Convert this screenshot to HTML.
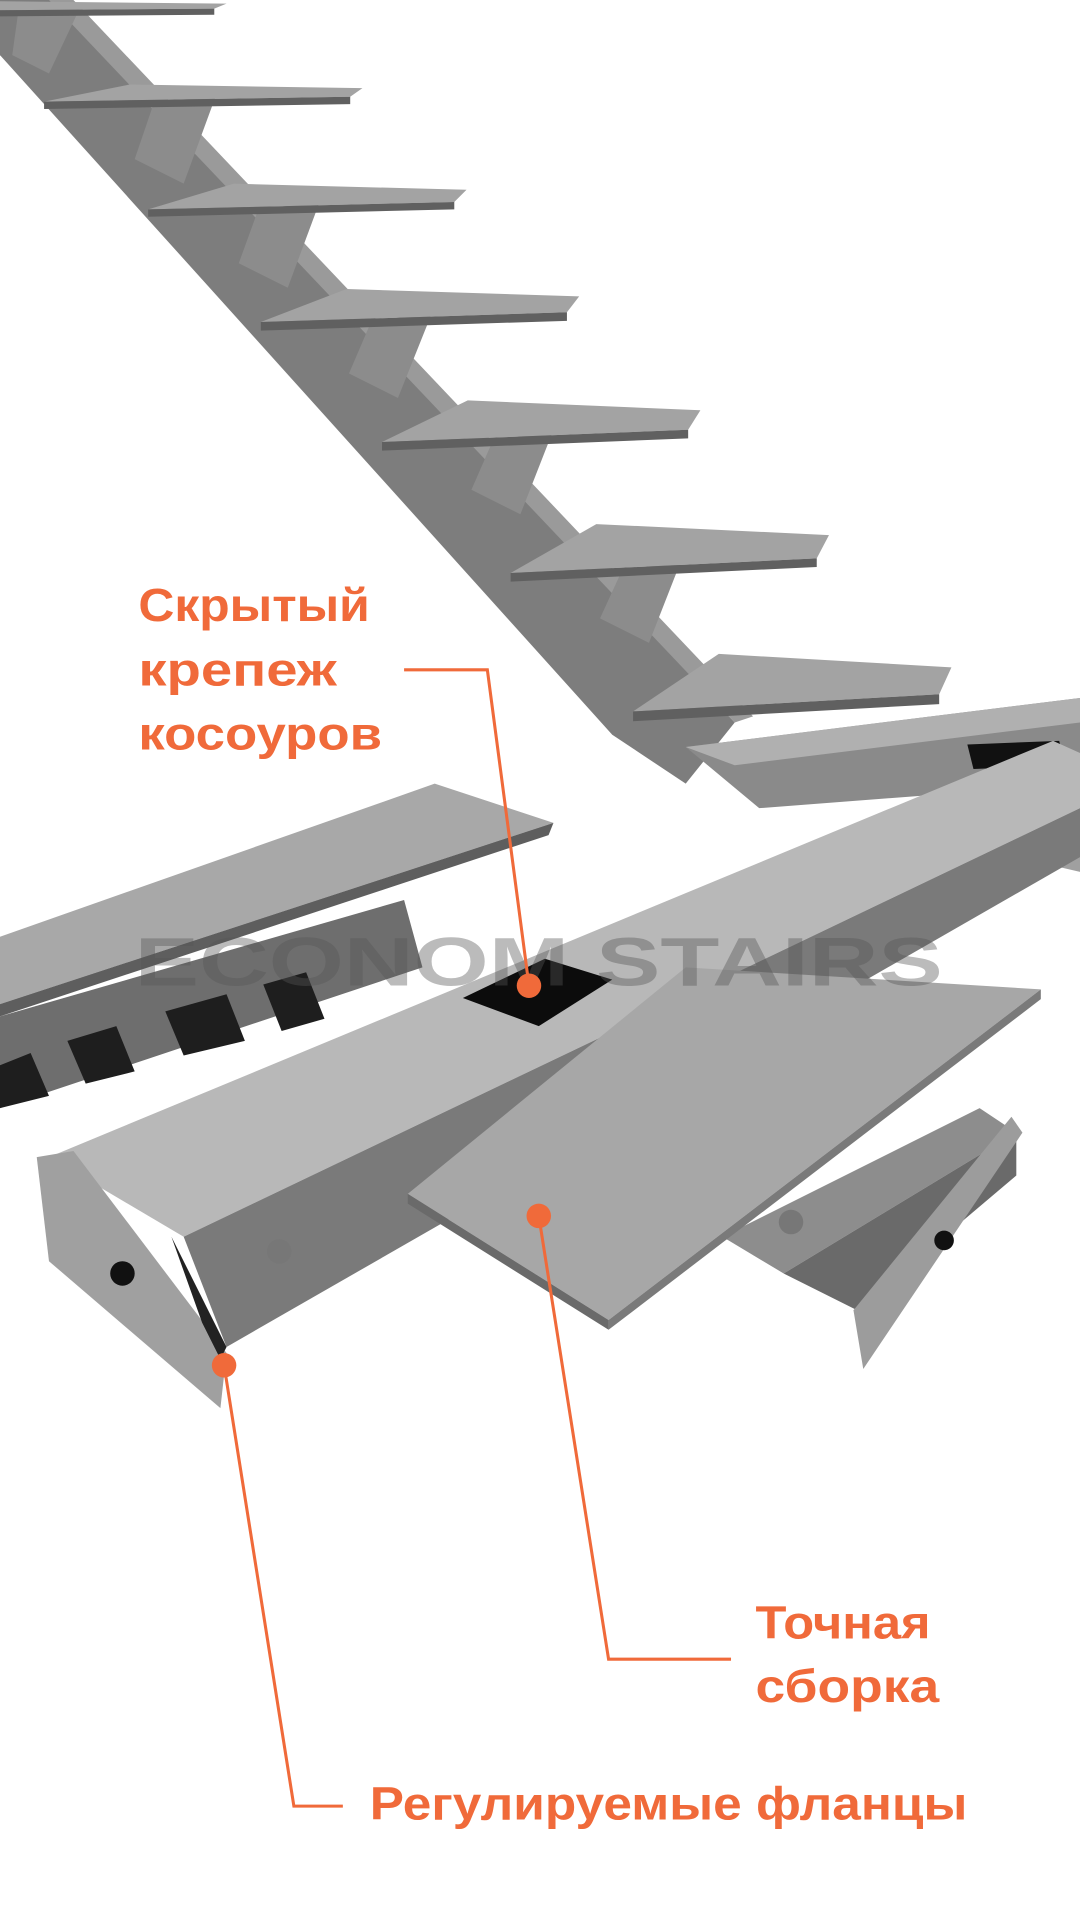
<!DOCTYPE html>
<html><head><meta charset="utf-8"><style>
html,body{margin:0;padding:0;background:#fff;}
svg{display:block;}
.lbl{font-family:"Liberation Sans",sans-serif;font-weight:bold;fill:#f06a3a;font-size:38px;}
</style></head><body>
<svg width="1080" height="1920" viewBox="0 0 882 1568" xmlns="http://www.w3.org/2000/svg">
<rect width="882" height="1568" fill="#fff"/>
<!-- upper stringer -->
<polygon points="0,0 50,0 600,590 560,640 500,600 0,45" fill="#7d7d7d"/>
<polygon points="40,0 60,0 615,585 600,590" fill="#9a9a9a"/>
<!-- supports -->
<g fill="#8c8c8c">
<polygon points="15,9 65,7 40,60 10,45"/>
<polygon points="126,83 176,79 150,150 110,130"/>
<polygon points="211,171 261,165 235,235 195,215"/>
<polygon points="303,263 353,255 325,325 285,305"/>
<polygon points="402,361 452,351 425,420 385,400"/>
<polygon points="507,468 557,456 530,525 490,505"/>
</g>
<!-- treads -->
<g fill="#a3a3a3">
<polygon points="-75,9 -5,1 185,3 175,7"/>
<polygon points="36,83 106,69 296,72 286,79"/>
<polygon points="121,171 191,150 381,155 371,165"/>
<polygon points="213,263 283,236 473,242 463,255"/>
<polygon points="312,361 382,327 572,335 562,351"/>
<polygon points="417,468 487,428 677,437 667,456"/>
<polygon points="517,581 587,534 777,545 767,567"/>
</g>
<g fill="#606060">
<polygon points="-75,9 175,7 175,12 -75,14"/>
<polygon points="36,83 286,79 286,85 36,89"/>
<polygon points="121,171 371,165 371,171 121,177"/>
<polygon points="213,263 463,255 463,262 213,270"/>
<polygon points="312,361 562,351 562,358 312,368"/>
<polygon points="417,468 667,456 667,463 417,475"/>
<polygon points="517,581 767,567 767,575 517,589"/>
</g>
<!-- upper right beam -->
<polygon points="560,610 882,570 882,640 620,660" fill="#8a8a8a"/>
<polygon points="560,610 882,570 882,590 600,625" fill="#b0b0b0"/>
<polygon points="790,608 865,605 870,625 795,628" fill="#111"/>
<polygon points="820,690 882,665 882,712 830,700" fill="#a0a0a0"/>
<!-- left stair -->
<polygon points="0,830 330,735 345,790 0,905" fill="#6e6e6e"/>
<g fill="#1e1e1e">
<polygon points="0,870 25,860 40,895 0,905"/>
<polygon points="55,850 95,838 110,875 70,885"/>
<polygon points="135,826 185,812 200,850 150,862"/>
<polygon points="215,804 250,794 265,832 230,842"/>
</g>
<polygon points="0,765 355,640 452,672 0,820" fill="#a8a8a8"/>
<polygon points="0,820 452,672 448,682 0,830" fill="#5e5e5e"/>
<!-- main diagonal beam -->
<polygon points="40,945 860,605 882,615 882,660 150,1010" fill="#b8b8b8"/>
<polygon points="150,1010 882,660 882,700 185,1100" fill="#7a7a7a"/>
<!-- black opening -->
<polygon points="378,815 445,783 500,800 440,838" fill="#0c0c0c"/>
<!-- under right plate box -->
<polygon points="590,1010 800,905 830,925 640,1040" fill="#8d8d8d"/>
<polygon points="640,1040 830,925 830,960 700,1070" fill="#6a6a6a"/>
<!-- right plate -->
<polygon points="333,975 560,790 850,808 497,1078" fill="#a7a7a7"/>
<polygon points="333,975 497,1078 497,1086 333,983" fill="#6a6a6a"/>
<polygon points="497,1078 850,808 850,816 497,1086" fill="#7a7a7a"/>
<!-- flanges -->
<polygon points="697,1070 826,912 835,925 705,1118" fill="#9c9c9c"/>
<circle cx="771" cy="1013" r="8" fill="#111"/>
<polygon points="30,945 60,940 185,1105 180,1150 40,1030" fill="#a0a0a0"/>
<circle cx="100" cy="1040" r="10" fill="#111"/>
<polygon points="140,1010 185,1100 180,1110 165,1080" fill="#222"/>
<circle cx="228" cy="1022" r="10" fill="#777"/>
<circle cx="646" cy="998" r="10" fill="#777"/>
<!-- watermark -->
<text x="110" y="805" font-family="Liberation Sans,sans-serif" font-weight="bold" font-size="56" fill="#555" fill-opacity="0.4" textLength="660" lengthAdjust="spacingAndGlyphs">ECONOM STAIRS</text>
<!-- callouts -->
<g stroke="#f06a3a" stroke-width="2.5" fill="none">
<polyline points="330,547 398,547 432,805"/>
<polyline points="440,993 497,1355 597,1355"/>
<polyline points="183,1115 240,1475 280,1475"/>
</g>
<g fill="#f06a3a">
<circle cx="432" cy="805" r="10"/>
<circle cx="440" cy="993" r="10"/>
<circle cx="183" cy="1115" r="10"/>
</g>
<text class="lbl" x="113" y="507" textLength="189" lengthAdjust="spacingAndGlyphs">Скрытый</text>
<text class="lbl" x="113" y="560" textLength="162" lengthAdjust="spacingAndGlyphs">крепеж</text>
<text class="lbl" x="113" y="612" textLength="199" lengthAdjust="spacingAndGlyphs">косоуров</text>
<text class="lbl" x="617" y="1338" textLength="143" lengthAdjust="spacingAndGlyphs">Точная</text>
<text class="lbl" x="617" y="1390" textLength="150" lengthAdjust="spacingAndGlyphs">сборка</text>
<text class="lbl" x="302" y="1486" textLength="488" lengthAdjust="spacingAndGlyphs">Регулируемые фланцы</text>
</svg>
</body></html>
